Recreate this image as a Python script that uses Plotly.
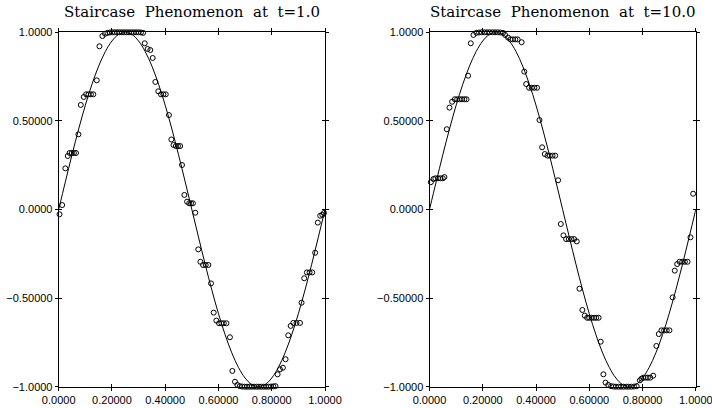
import plotly.graph_objects as go

# Exact solution curve values, x step 0.025
curve_x = [i * 0.025 for i in range(41)]
curve_y = [0.000, 0.156, 0.309, 0.454, 0.588, 0.707, 0.809, 0.891, 0.951, 0.988,
           1.000, 0.988, 0.951, 0.891, 0.809, 0.707, 0.588, 0.454, 0.309, 0.156,
           0.000, -0.156, -0.309, -0.454, -0.588, -0.707, -0.809, -0.891, -0.951, -0.988,
           -1.000, -0.988, -0.951, -0.891, -0.809, -0.707, -0.588, -0.454, -0.309, -0.156,
           0.000]

# t = 1.0 numerical points
t1_x = [0.003, 0.013, 0.025, 0.034, 0.041, 0.049, 0.057, 0.065, 0.074, 0.083,
        0.094, 0.103, 0.112, 0.121, 0.130, 0.143, 0.153, 0.164, 0.174,
        0.183, 0.192, 0.201, 0.210, 0.219, 0.228, 0.237, 0.246, 0.255, 0.264,
        0.273, 0.282, 0.291, 0.300, 0.309, 0.317,
        0.323, 0.334, 0.344, 0.353, 0.363, 0.374, 0.384, 0.393, 0.402, 0.414,
        0.423, 0.431, 0.440, 0.448, 0.456, 0.463, 0.472, 0.482, 0.490, 0.497,
        0.504, 0.513, 0.524, 0.532, 0.542, 0.552, 0.562, 0.572, 0.582, 0.592,
        0.602, 0.611, 0.620, 0.630, 0.643, 0.652, 0.662, 0.671,
        0.680, 0.689, 0.698, 0.707, 0.716, 0.725, 0.734, 0.743, 0.752, 0.761,
        0.770, 0.779, 0.788, 0.797, 0.806, 0.814,
        0.822, 0.831, 0.842, 0.852, 0.862, 0.871, 0.881, 0.893, 0.906, 0.912,
        0.922, 0.932, 0.942, 0.952, 0.963, 0.973, 0.982, 0.990, 0.996]
t1_y = [-0.027, 0.025, 0.232, 0.302, 0.319, 0.319, 0.319, 0.319, 0.424, 0.590,
        0.635, 0.650, 0.650, 0.650, 0.650, 0.729, 0.921, 0.979, 0.992,
        0.997, 0.999, 1.000, 1.000, 1.000, 1.000, 1.000, 1.000, 1.000, 1.000,
        1.000, 1.000, 1.000, 1.000, 0.999, 0.997,
        0.938, 0.906, 0.900, 0.855, 0.720, 0.667, 0.650, 0.650, 0.650, 0.533,
        0.395, 0.364, 0.358, 0.358, 0.358, 0.251, 0.082, 0.044, 0.035, 0.035,
        0.035, -0.018, -0.225, -0.295, -0.313, -0.313, -0.313, -0.417, -0.582, -0.627,
        -0.642, -0.642, -0.642, -0.642, -0.721, -0.911, -0.972, -0.990,
        -0.997, -0.999, -1.000, -1.000, -1.000, -1.000, -1.000, -1.000, -1.000, -1.000,
        -1.000, -1.000, -1.000, -0.999, -0.998, -0.997,
        -0.930, -0.902, -0.893, -0.845, -0.710, -0.657, -0.640, -0.640, -0.640, -0.526,
        -0.388, -0.355, -0.355, -0.355, -0.244, -0.074, -0.035, -0.030, -0.020]

# t = 10.0 numerical points
t10_x = [0.005, 0.015, 0.022, 0.032, 0.041, 0.050, 0.056, 0.065, 0.075, 0.085,
         0.095, 0.104, 0.113, 0.122, 0.131, 0.139, 0.145, 0.155, 0.165,
         0.176, 0.186, 0.196, 0.206, 0.216, 0.226, 0.236, 0.246, 0.256, 0.266, 0.276,
         0.284, 0.295, 0.304, 0.313, 0.322, 0.331, 0.346, 0.356, 0.363,
         0.374, 0.384, 0.394, 0.404, 0.413, 0.423, 0.433, 0.443, 0.452, 0.462,
         0.472, 0.483, 0.493, 0.503, 0.513, 0.523, 0.533, 0.543, 0.553, 0.563,
         0.574, 0.583, 0.592, 0.600, 0.609, 0.618, 0.626, 0.635, 0.643, 0.653,
         0.661, 0.671, 0.682, 0.691, 0.700, 0.710, 0.719, 0.729, 0.739, 0.748,
         0.758, 0.768, 0.778, 0.790, 0.796, 0.803, 0.812, 0.820, 0.829, 0.840,
         0.852, 0.861, 0.871, 0.881, 0.891, 0.901, 0.913, 0.921, 0.930, 0.939,
         0.949, 0.959, 0.969, 0.980, 0.990]
t10_y = [0.154, 0.172, 0.176, 0.176, 0.176, 0.176, 0.183, 0.453, 0.575, 0.608,
         0.622, 0.622, 0.622, 0.622, 0.622, 0.622, 0.755, 0.938, 0.985,
         0.997, 0.999, 1.000, 1.000, 1.000, 1.000, 1.000, 1.000, 1.000, 0.999, 0.997,
         0.985, 0.970, 0.960, 0.960, 0.960, 0.960, 0.944, 0.778, 0.708,
         0.687, 0.687, 0.687, 0.687, 0.505, 0.351, 0.313, 0.304, 0.304, 0.304,
         0.304, 0.165, -0.082, -0.146, -0.167, -0.167, -0.167, -0.167, -0.180, -0.447,
         -0.567, -0.599, -0.611, -0.611, -0.611, -0.611, -0.611, -0.611, -0.746, -0.930,
         -0.977, -0.990, -0.997, -0.999, -1.000, -1.000, -1.000, -1.000, -1.000, -1.000,
         -1.000, -0.999, -0.997, -0.964, -0.955, -0.949, -0.949, -0.949, -0.949, -0.938,
         -0.770, -0.703, -0.682, -0.682, -0.682, -0.682, -0.496, -0.345, -0.308, -0.295,
         -0.295, -0.295, -0.295, -0.157, 0.089]

titles = ["Staircase\u00a0\u00a0Phenomenon\u00a0\u00a0at\u00a0\u00a0t=1.0",
          "Staircase\u00a0\u00a0Phenomenon\u00a0\u00a0at\u00a0\u00a0t=10.0"]
x_ticks = [0, 0.2, 0.4, 0.6, 0.8, 1.0]
x_tick_text = ["0.0000", "0.20000", "0.40000", "0.60000", "0.80000", "1.0000"]
y_ticks = [-1.0, -0.5, 0.0, 0.5, 1.0]
y_tick_text = ["\u22121.0000", "\u22120.50000", "0.0000", "0.50000", "1.0000"]

W, H = 712, 408
x_domains = [[58.7 / W, 325.0 / W], [429.5 / W, 695.8 / W]]
y_domain = [(H - 386.7) / H, (H - 32.3) / H]

fig = go.Figure()
tick_font = dict(family="Liberation Sans, Arial, sans-serif", size=11, color="black")

for i, (px, py) in enumerate([(t1_x, t1_y), (t10_x, t10_y)]):
    xa = "x" if i == 0 else "x2"
    ya = "y" if i == 0 else "y2"
    fig.add_trace(go.Scatter(x=curve_x, y=curve_y, mode="lines", line=dict(color="black", width=1, shape="spline"),
                             xaxis=xa, yaxis=ya, showlegend=False, hoverinfo="skip"))
    fig.add_trace(go.Scatter(x=px, y=py, mode="markers",
                             marker=dict(symbol="circle-open", size=5, color="black", line=dict(width=1, color="black")),
                             xaxis=xa, yaxis=ya, showlegend=False, cliponaxis=False))
    # overlay (inside ticks) axes
    xo = "x%d" % (i + 3)
    yo = "y%d" % (i + 3)
    fig.add_trace(go.Scatter(x=[curve_x[0]], y=[curve_y[0]], mode="markers", marker=dict(opacity=0),
                             xaxis=xo, yaxis=yo, showlegend=False, hoverinfo="skip"))

common_x = dict(range=[0, 1], tickvals=x_ticks, ticktext=x_tick_text, showgrid=False, zeroline=False,
                showline=True, linecolor="black", linewidth=1, mirror="ticks", ticks="outside",
                ticklen=3, tickwidth=1, tickcolor="black", tickfont=tick_font, automargin=False,
                ticklabeloverflow="allow")
common_y = dict(range=[-1, 1], tickvals=y_ticks, ticktext=y_tick_text, showgrid=False, zeroline=False,
                showline=True, linecolor="black", linewidth=1, mirror="ticks", ticks="outside",
                ticklen=3, tickwidth=1, tickcolor="black", tickfont=tick_font, domain=y_domain,
                automargin=False, ticklabeloverflow="allow")
inner_x = dict(range=[0, 1], tickvals=x_ticks, showticklabels=False, showgrid=False, zeroline=False,
               showline=False, mirror="ticks", ticks="inside", ticklen=3, tickwidth=1, tickcolor="black",
               automargin=False)
inner_y = dict(range=[-1, 1], tickvals=y_ticks, showticklabels=False, showgrid=False, zeroline=False,
               showline=False, mirror="ticks", ticks="inside", ticklen=3, tickwidth=1, tickcolor="black",
               domain=y_domain, automargin=False)

fig.update_layout(
    template="none",
    width=W, height=H, margin=dict(l=0, r=0, t=0, b=0),
    plot_bgcolor="white", paper_bgcolor="white",
    xaxis=dict(common_x, domain=x_domains[0], anchor="y"),
    yaxis=dict(common_y, anchor="x"),
    xaxis2=dict(common_x, domain=x_domains[1], anchor="y2"),
    yaxis2=dict(common_y, anchor="x2"),
    xaxis3=dict(inner_x, domain=x_domains[0], anchor="y3", overlaying="x"),
    yaxis3=dict(inner_y, anchor="x3", overlaying="y"),
    xaxis4=dict(inner_x, domain=x_domains[1], anchor="y4", overlaying="x2"),
    yaxis4=dict(inner_y, anchor="x4", overlaying="y2"),
)

for i, t in enumerate(titles):
    fig.add_annotation(text=t, xref="paper", yref="paper",
                       x=(x_domains[i][0] + x_domains[i][1]) / 2, y=(H - 12.0) / H,
                       xanchor="center", yanchor="middle", showarrow=False,
                       font=dict(family="DejaVu Serif, serif", size=15, color="black"))

fig.write_html("out.html")
